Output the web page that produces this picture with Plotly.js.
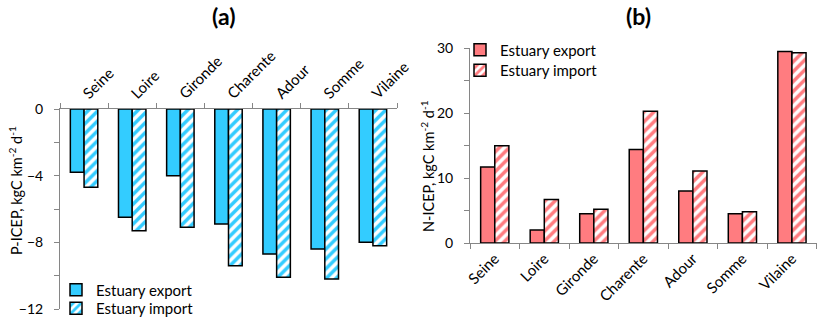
<!DOCTYPE html>
<html>
<head>
<meta charset="utf-8">
<script src="https://cdn.plot.ly/plotly-3.0.1.min.js"></script>
<style>html,body{margin:0;padding:0;background:#fff;}#chart{width:823px;height:319px;}</style>
</head>
<body>
<div id="chart"></div>
<script>
// Data
const estuaries = ["Seine", "Loire", "Gironde", "Charente", "Adour", "Somme", "Vilaine"];
const pExport = [-3.8, -6.5, -4.0, -6.9, -8.7, -8.4, -8.0];
const pImport = [-4.7, -7.3, -7.1, -9.4, -10.1, -10.2, -8.2];
const nExport = [11.7, 2.0, 4.5, 14.4, 8.0, 4.5, 29.5];
const nImport = [15.0, 6.7, 5.2, 20.3, 11.1, 4.8, 29.3];
const seriesNames = ["Estuary export", "Estuary import"];

const W = 823, H = 319;
const CYAN = "#33ccff", PINK = "#ff7c80", AXIS = "#868686";
const FONT = "Lato, 'Open Sans', sans-serif";

function solid(color) {
  return {color: color, line: {color: "#000", width: 1.5}};
}
function hatched(color) {
  return {color: "white", line: {color: "#000", width: 1.5},
    pattern: {shape: "/", fgcolor: color, bgcolor: "white", size: 7, solidity: 0.5, fillmode: "replace"}};
}

const traces = [
  {type: "bar", x: estuaries, y: pExport, name: seriesNames[0], marker: solid(CYAN), xaxis: "x", yaxis: "y", legend: "legend"},
  {type: "bar", x: estuaries, y: pImport, name: seriesNames[1], marker: hatched(CYAN), xaxis: "x", yaxis: "y", legend: "legend2"},
  {type: "bar", x: estuaries, y: nExport, name: seriesNames[0], marker: solid(PINK), xaxis: "x2", yaxis: "y2", legend: "legend3"},
  {type: "bar", x: estuaries, y: nImport, name: seriesNames[1], marker: hatched(PINK), xaxis: "x2", yaxis: "y2", legend: "legend4"}
];

const xCommon = {type: "category", tickson: "boundaries", ticks: "outside", ticklen: 5, tickcolor: AXIS,
  tickangle: -45, showline: true, linecolor: AXIS, linewidth: 1, showgrid: false, zeroline: false,
  tickfont: {family: FONT, size: 15, color: "#000"}, automargin: false, fixedrange: true};
const yCommon = {ticks: "outside", ticklen: 5, tickcolor: AXIS, showline: true, linecolor: AXIS, linewidth: 1,
  showgrid: false, zeroline: false, tickfont: {family: FONT, size: 14, color: "#000"}, automargin: false,
  ticklabelstandoff: 8, fixedrange: true};

function legendAt(xPx, yPx) {
  return {x: xPx / W, xanchor: "left", y: 1 - yPx / H, yanchor: "middle",
    bgcolor: "rgba(0,0,0,0)", borderwidth: 0, font: {family: FONT, size: 15, color: "#000"},
    tracegroupgap: 0, itemclick: false};
}

const layout = {
  width: W, height: H,
  margin: {l: 0, r: 0, t: 0, b: 0, autoexpand: false},
  paper_bgcolor: "white", plot_bgcolor: "white",
  barmode: "group", bargap: 0.43, bargroupgap: 0,
  font: {family: FONT, color: "#000"},
  xaxis: Object.assign({}, xCommon, {domain: [60 / W, 397 / W], anchor: "y", side: "top"}),
  yaxis: Object.assign({}, yCommon, {domain: [1 - 309 / H, 1 - 109 / H], anchor: "x", range: [-12, 0],
    tickvals: [0, -4, -8, -12], minor: {tickvals: [-2, -6, -10], ticks: "outside", ticklen: 5, tickcolor: AXIS}}),
  xaxis2: Object.assign({}, xCommon, {domain: [470 / W, 816.7 / W], anchor: "y2", side: "bottom"}),
  yaxis2: Object.assign({}, yCommon, {domain: [1 - 243 / H, 1 - 48.3 / H], anchor: "x2", range: [0, 30],
    tickvals: [0, 10, 20, 30], minor: {tickvals: [5, 15, 25], ticks: "outside", ticklen: 5, tickcolor: AXIS}}),
  legend: legendAt(56, 290),
  legend2: legendAt(56, 308.5),
  legend3: legendAt(460, 50),
  legend4: legendAt(460, 70.5),
  annotations: [
    {text: "<b>(a)</b>", xref: "paper", yref: "paper", x: 223 / W, y: 1 - 16 / H, showarrow: false,
      font: {family: FONT, size: 23, color: "#000"}, xanchor: "center", yanchor: "middle"},
    {text: "<b>(b)</b>", xref: "paper", yref: "paper", x: 638 / W, y: 1 - 16 / H, showarrow: false,
      font: {family: FONT, size: 23, color: "#000"}, xanchor: "center", yanchor: "middle"},
    {text: "P-ICEP, kgC km<sup>-2</sup> d<sup>-1</sup>", xref: "paper", yref: "paper", x: 15 / W, y: 1 - 191 / H,
      textangle: -90, showarrow: false, font: {family: FONT, size: 14.5, color: "#000"}, xanchor: "center", yanchor: "middle"},
    {text: "N-ICEP, kgC km<sup>-2</sup> d<sup>-1</sup>", xref: "paper", yref: "paper", x: 427 / W, y: 1 - 166 / H,
      textangle: -90, showarrow: false, font: {family: FONT, size: 14.5, color: "#000"}, xanchor: "center", yanchor: "middle"}
  ],
  showlegend: true
};

Plotly.newPlot("chart", traces, layout, {displayModeBar: false, staticPlot: true});
</script>
</body>
</html>
